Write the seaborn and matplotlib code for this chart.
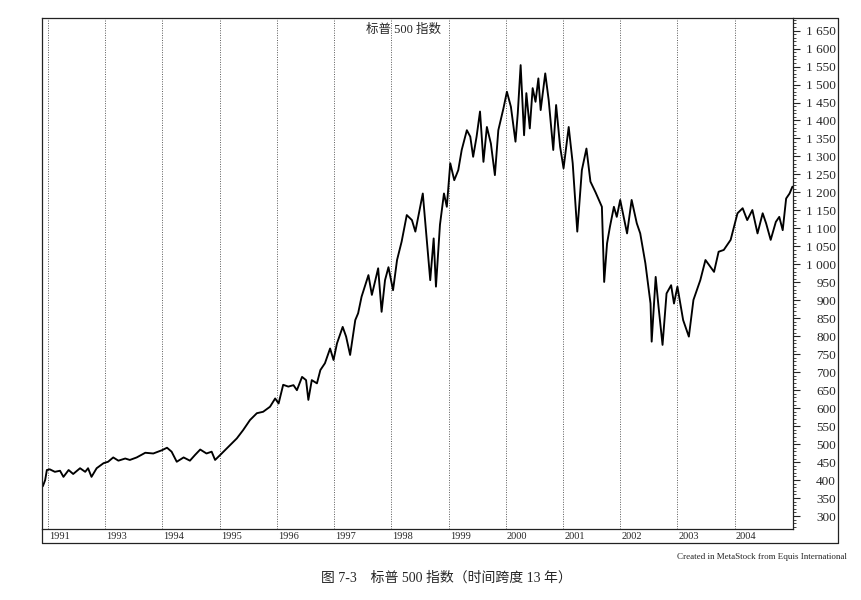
import matplotlib
matplotlib.use("Agg")
import matplotlib.pyplot as plt
import matplotlib.ticker as mticker
from matplotlib.lines import Line2D
from matplotlib.transforms import offset_copy
import seaborn as sns
import pandas as pd

# year grid lines and the labels printed under them (as in the picture)
YEAR_POS = [1992, 1993, 1994, 1995, 1996, 1997, 1998, 1999, 2000, 2001, 2002, 2003, 2004]
YEAR_LABELS = ["1991", "1993", "1994", "1995", "1996", "1997", "1998",
               "1999", "2000", "2001", "2002", "2003", "2004"]

# S&P 500 index (decimal year, index level)
DATES = [
    1991.91, 1991.95, 1991.98, 1992.03, 1992.12, 1992.21, 1992.27, 1992.36, 1992.44, 1992.56,
    1992.65, 1992.70, 1992.76, 1992.85, 1992.97, 1993.05, 1993.14, 1993.23, 1993.35, 1993.43,
    1993.55, 1993.70, 1993.84, 1993.99, 1994.08, 1994.16, 1994.25, 1994.37, 1994.48, 1994.57,
    1994.66, 1994.77, 1994.86, 1994.92, 1995.01, 1995.18, 1995.30, 1995.41, 1995.53, 1995.65,
    1995.76, 1995.88, 1995.97, 1996.03, 1996.11, 1996.20, 1996.29, 1996.35, 1996.44, 1996.51,
    1996.55, 1996.61, 1996.70, 1996.76, 1996.84, 1996.93, 1996.99, 1997.05, 1997.15, 1997.21,
    1997.28, 1997.37, 1997.42, 1997.48, 1997.60, 1997.66, 1997.72, 1997.77, 1997.83, 1997.89,
    1997.95, 1998.03, 1998.10, 1998.18, 1998.27, 1998.36, 1998.42, 1998.47, 1998.55, 1998.62,
    1998.68, 1998.74, 1998.78, 1998.85, 1998.92, 1998.97, 1999.03, 1999.10, 1999.17, 1999.23,
    1999.32, 1999.38, 1999.43, 1999.49, 1999.55, 1999.61, 1999.67, 1999.74, 1999.81, 1999.87,
    1999.96, 2000.02, 2000.09, 2000.17, 2000.21, 2000.26, 2000.32, 2000.36, 2000.42, 2000.47,
    2000.52, 2000.57, 2000.61, 2000.69, 2000.75, 2000.83, 2000.88, 2000.95, 2001.01, 2001.10,
    2001.17, 2001.25, 2001.33, 2001.41, 2001.48, 2001.57, 2001.68, 2001.72, 2001.77, 2001.82,
    2001.89, 2001.94, 2002.00, 2002.12, 2002.20, 2002.29, 2002.35, 2002.44, 2002.53, 2002.55,
    2002.62, 2002.67, 2002.74, 2002.81, 2002.89, 2002.94, 2003.00, 2003.10, 2003.20, 2003.28,
    2003.40, 2003.49, 2003.64, 2003.72, 2003.81, 2003.93, 2004.05, 2004.14, 2004.22, 2004.31,
    2004.40, 2004.49, 2004.55, 2004.63, 2004.72, 2004.78, 2004.84, 2004.90, 2004.96, 2005.01,
]
CLOSE = [
    383, 400, 428, 430, 423, 426, 409, 428, 417, 433,
    423, 433, 409, 433, 447, 451, 463, 454, 460, 456,
    463, 476, 474, 483, 490, 479, 451, 463, 454, 470,
    485, 474, 479, 456, 470, 497, 516, 539, 567, 586,
    590, 604, 627, 613, 665, 660, 664, 650, 687, 678,
    623, 678, 669, 706, 725, 766, 734, 780, 826, 799,
    748, 845, 864, 910, 970, 915, 956, 989, 868, 956,
    992, 928, 1012, 1063, 1137, 1123, 1091, 1132, 1197, 1068,
    956, 1072, 938, 1110, 1197, 1160, 1281, 1234, 1262, 1318,
    1373, 1355, 1299, 1355, 1425, 1285, 1382, 1336, 1248, 1373,
    1434, 1480, 1438, 1341, 1420, 1554, 1359, 1476, 1378, 1490,
    1452, 1517, 1429, 1531, 1457, 1318, 1443, 1327, 1267, 1382,
    1281, 1091, 1262, 1322, 1230, 1200, 1160, 951, 1058, 1104,
    1160, 1132, 1179, 1086, 1179, 1114, 1086, 1003, 891, 785,
    965, 882, 776, 919, 942, 891, 938, 845, 799, 901,
    956, 1012, 979, 1035, 1040, 1068, 1142, 1156, 1123, 1151,
    1086, 1142, 1114, 1068, 1118, 1132, 1095, 1183, 1197, 1216,
]

W, H = 861, 600


def fx(px):
    return px / W


def fy(py):
    return 1 - py / H


sns.set_style("white")
plt.rcParams["font.family"] = ["Liberation Serif", "Noto Sans CJK SC", "DejaVu Sans"]

fig = plt.figure(figsize=(W / 100, H / 100), dpi=100)
ax = fig.add_axes([fx(42), fy(529), fx(793) - fx(42), fy(18) - fy(529)])

df = pd.DataFrame({"date": DATES, "close": CLOSE})
sns.lineplot(data=df, x="date", y="close", color="black", linewidth=1.35,
             estimator=None, ax=ax)

ax.set_xlim(1991.895, 2005.02)
ax.set_ylim(264, 1685)
ax.set_xlabel("")
ax.set_ylabel("")

# dotted year lines
for yp in YEAR_POS:
    ax.axvline(yp, color="0.35", linestyle=(0, (1, 1.5)), linewidth=0.7, zorder=0)

# right price axis
ax.yaxis.tick_right()
ax.set_yticks(range(300, 1651, 50))
ax.yaxis.set_major_formatter(mticker.FuncFormatter(lambda v, p: f"{int(v):,}".replace(",", " ")))
ax.yaxis.set_minor_locator(mticker.MultipleLocator(10))
ax.tick_params(axis="y", which="major", direction="out", length=5, width=0.8,
               labelsize=9.5, pad=26)
ax.tick_params(axis="y", which="minor", direction="out", length=2, width=0.6)
plt.setp(ax.get_yticklabels(), ha="right")

# bottom year strip
ax.set_xticks(YEAR_POS)
ax.set_xticklabels([])
ax.xaxis.set_minor_locator(mticker.MultipleLocator(1 / 12))
ax.tick_params(axis="x", which="major", direction="out", length=9.5, width=0.8)
ax.tick_params(axis="x", which="minor", direction="in", length=2.5, width=0.6)
lab_tr = offset_copy(ax.get_xaxis_transform(), fig=fig, x=0.8, y=-2, units="points")
for yp, lab in zip(YEAR_POS, YEAR_LABELS):
    ax.text(yp, 0, lab, transform=lab_tr, ha="left", va="top", fontsize=7.5)

for side in ["left", "right", "top", "bottom"]:
    ax.spines[side].set_visible(True)
    ax.spines[side].set_color("#222222")
    ax.spines[side].set_linewidth(0.9)

# outer frame round the label areas
frame = [((793, 18), (838, 18)), ((838, 18), (838, 543)),
         ((42, 543), (838, 543)), ((42, 529), (42, 543))]
for (x0, y0), (x1, y1) in frame:
    fig.add_artist(Line2D([fx(x0), fx(x1)], [fy(y0), fy(y1)], color="#222222",
                          linewidth=0.9, transform=fig.transFigure))

fig.text(fx(403), fy(30), "标普 500 指数", ha="center", va="center", fontsize=9)
fig.text(fx(847), fy(557), "Created in MetaStock from Equis International",
         ha="right", va="center", fontsize=6.5)
fig.text(fx(446), fy(578), "图 7-3\u3000标普 500 指数（时间跨度 13 年）",
         ha="center", va="center", fontsize=10)

fig.savefig("out.png", dpi=100)
